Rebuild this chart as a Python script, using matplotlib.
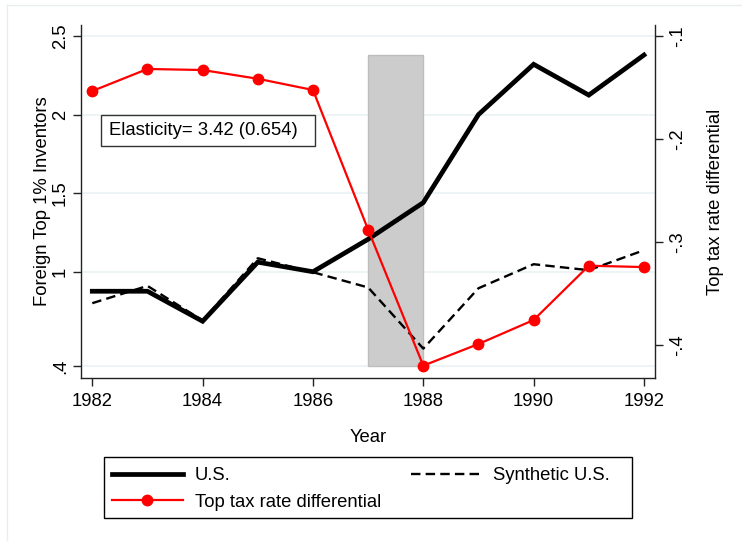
import matplotlib
matplotlib.use("Agg")
import matplotlib.pyplot as plt
from matplotlib.patches import Rectangle
from matplotlib.lines import Line2D

plt.rcParams['font.family'] = ['Liberation Sans', 'DejaVu Sans']

years = [1982, 1983, 1984, 1985, 1986, 1987, 1988, 1989, 1990, 1991, 1992]
us = [0.876, 0.876, 0.685, 1.061, 1.000, 1.207, 1.440, 2.000, 2.320, 2.124, 2.379]
synthetic_us = [0.800, 0.910, 0.690, 1.086, 0.997, 0.900, 0.511, 0.895, 1.048, 1.010, 1.137]
tax_diff = [-0.1534, -0.1320, -0.1330, -0.1415, -0.1524, -0.2880, -0.4200,
            -0.3990, -0.3757, -0.3230, -0.3243]

left_ticks = [0.4, 1, 1.5, 2, 2.5]
left_labels = ['.4', '1', '1.5', '2', '2.5']
right_ticks = [-0.4, -0.3, -0.2, -0.1]
right_labels = ['-.4', '-.3', '-.2', '-.1']
x_ticks = [1982, 1984, 1986, 1988, 1990, 1992]
shade_years = [1987, 1988]
shade_range = [0.4, 2.38]

FS = 13.3
grid_c = '#eaf2f3'
DASH = (4.0, 2.2)

fig = plt.figure(figsize=(7.42, 5.41), dpi=100)
# faint outer frame (left & top)
fig.add_artist(Line2D([7/742, 7/742], [0, 1 - 5/541], transform=fig.transFigure, color='#e6eeef', lw=1))
fig.add_artist(Line2D([7/742, 1], [1 - 5/541, 1 - 5/541], transform=fig.transFigure, color='#e6eeef', lw=1))

ax = fig.add_axes([80.7/742, 1 - 378/541, (655 - 80.7)/742, (378 - 25)/541])
ax.set_xlim(1981.79, 1992.2)
ax.set_ylim(0.324, 2.57)

for t in left_ticks:
    ax.axhline(t, color=grid_c, lw=1.2, zorder=0)

ax.add_patch(Rectangle((shade_years[0], shade_range[0]), shade_years[1] - shade_years[0],
                       shade_range[1] - shade_range[0], facecolor='#cccccc',
                       edgecolor='#bdbdbd', lw=1, zorder=1))

ax.plot(years, us, color='black', lw=3.4, zorder=3, solid_joinstyle='miter')
ax.plot(years, synthetic_us, color='black', lw=1.7, dashes=DASH, zorder=2)

ax.set_yticks(left_ticks)
ax.set_yticklabels(left_labels, rotation=90, va='center', fontsize=FS)
ax.set_xticks(x_ticks)
ax.set_xticklabels([str(x) for x in x_ticks], fontsize=FS)
ax.tick_params(axis='both', length=6, width=1, color='#222222', pad=4.5)
ax.tick_params(axis='y', pad=2.5)
ax.set_xlabel('Year', fontsize=FS, labelpad=14)
ax.set_ylabel('Foreign Top 1% Inventors', fontsize=FS, labelpad=1)
for s in ['top', 'right']:
    ax.spines[s].set_visible(False)
for s in ['left', 'bottom']:
    ax.spines[s].set_color('#222222')
    ax.spines[s].set_linewidth(1)

ax2 = ax.twinx()
ax2.set_ylim(-0.432, -0.0893)
ax2.plot(years, tax_diff, color='#ff0000', lw=1.6, marker='o', markersize=7.5, zorder=4)
ax2.set_yticks(right_ticks)
ax2.set_yticklabels(right_labels, rotation=90, va='center', fontsize=FS)
ax2.tick_params(axis='y', length=6, width=1, color='#222222', pad=4)
ax2.set_ylabel('Top tax rate differential', fontsize=FS, labelpad=15)
for s in ['top', 'left', 'bottom']:
    ax2.spines[s].set_visible(False)
ax2.spines['right'].set_color('#222222')
ax2.spines['right'].set_linewidth(1)

# elasticity box
x0 = (101 - 80.7) / 574.3
x1 = (315 - 80.7) / 574.3
y0 = (378 - 146) / 353
y1 = (378 - 115) / 353
ax2.add_patch(Rectangle((x0, y0), x1 - x0, y1 - y0, transform=ax2.transAxes,
                        facecolor='white', edgecolor='#333333', lw=1, zorder=5))
ax2.text((109 - 80.7) / 574.3, (378 - 130.5) / 353, 'Elasticity= 3.42 (0.654)',
         transform=ax2.transAxes, fontsize=FS, va='center', ha='left', zorder=6)

# legend frame
fig.add_artist(Rectangle((104/742, 1 - 518/541), (632 - 104)/742, (518 - 457)/541,
                         transform=fig.transFigure, facecolor='white',
                         edgecolor='black', lw=1))
handles = [
    Line2D([], [], color='black', lw=3.4),
    Line2D([], [], color='#ff0000', lw=1.6, marker='o', markersize=7.5),
    Line2D([], [], color='black', lw=1.7, dashes=DASH),
]
labels = ['U.S.', 'Top tax rate differential', 'Synthetic U.S.']
leg = fig.legend(handles, labels, ncol=2, loc='upper left',
                 bbox_to_anchor=(104/742, 1 - 459/541), bbox_transform=fig.transFigure,
                 fontsize=FS, frameon=False,
                 handlelength=3.8, handletextpad=0.65, columnspacing=1.62,
                 borderpad=0.45, labelspacing=0.5, borderaxespad=0)

fig.savefig('out.png', dpi=100, facecolor='white')
